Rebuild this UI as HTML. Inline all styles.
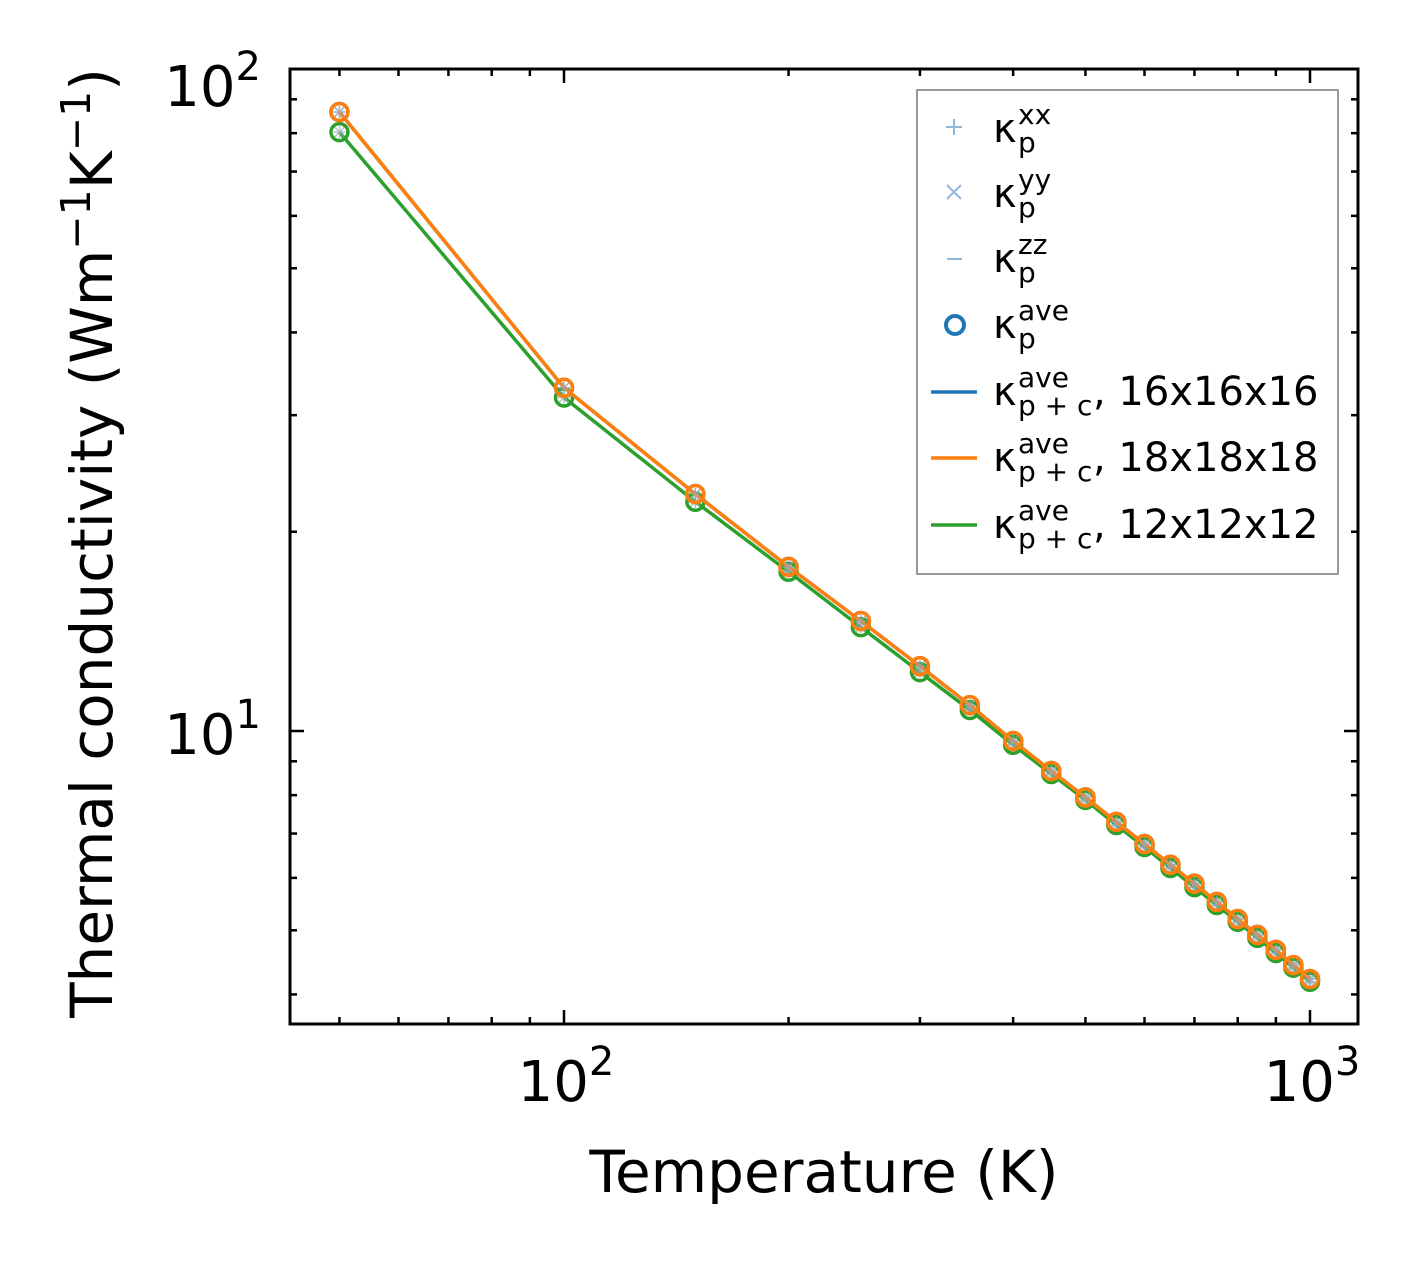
<!DOCTYPE html>
<html><head><meta charset="utf-8"><style>
body{margin:0;background:#fff}
text{font-family:"DejaVu Sans","Liberation Sans",sans-serif;fill:#000}
</style></head><body>
<svg id="chart" width="1420" height="1263" viewBox="0 0 1420 1263" xmlns="http://www.w3.org/2000/svg">
<g id="marks"></g>
<g id="axes"></g>
<rect x="290" y="69" width="1068" height="955" fill="none" stroke="#000" stroke-width="3"/>
<text x="824" y="1192" font-size="58" text-anchor="middle">Temperature (K)</text>
<text transform="translate(112,543) rotate(-90)" font-size="58" text-anchor="middle">Thermal conductivity (Wm<tspan dy="-22" font-size="41">−1</tspan><tspan dy="22">K</tspan><tspan dy="-22" font-size="41">−1</tspan><tspan dy="22">)</tspan></text>
<g>
<rect x="917" y="90" width="421" height="484" fill="#fff" stroke="#999" stroke-width="2"/>
<g id="legend-items"></g>
</g>
</svg>
<script>
const temps=[50,100,150,200,250,300,350,400,450,500,550,600,650,700,750,800,850,900,950,1000];
const k16=[86.1,33.0,22.8,17.7,14.66,12.53,10.94,9.66,8.70,7.94,7.29,6.75,6.28,5.88,5.52,5.20,4.92,4.67,4.43,4.22];
const k18=[86.1,33.0,22.8,17.7,14.66,12.53,10.94,9.66,8.70,7.94,7.29,6.75,6.28,5.88,5.52,5.20,4.92,4.67,4.43,4.22];
const k12=[80.3,31.9,22.2,17.4,14.35,12.27,10.76,9.53,8.61,7.87,7.21,6.68,6.21,5.81,5.46,5.15,4.87,4.62,4.39,4.18];
const xMajor=[100,1000];
const xMajorLabels=["2","3"];
const yMajor=[10,100];
const yMajorLabels=["1","2"];

const NS="http://www.w3.org/2000/svg";
const X0=290,X1=1358,Y0=69,Y1=1024;
const xlo=Math.log10(100)-274/746, xhi=3+48/746;
const ylo=1-293/662, yhi=2;
function xs(v){return X0+(Math.log10(v)-xlo)/(xhi-xlo)*(X1-X0);}
function ys(v){return Y1-(Math.log10(v)-ylo)/(yhi-ylo)*(Y1-Y0);}
function mk(tag,attrs,parent){const e=document.createElementNS(NS,tag);for(const k in attrs)e.setAttribute(k,attrs[k]);parent.appendChild(e);return e;}
const marks=document.getElementById('marks'), axes=document.getElementById('axes');

for(let d=10;d<=1000;d*=10){for(let m=1;m<10;m++){const v=d*m;if(v<43||v>1159)continue;const x=xs(v);const L=(m===1)?14:7;
 let t=mk('line',{x1:x,x2:x,y1:Y1,y2:Y1-L,stroke:'#000','stroke-width':2.5},axes);
 
 
 t=mk('line',{x1:x,x2:x,y1:Y0,y2:Y0+L,stroke:'#000','stroke-width':2.5},axes);
 
 }}
for(let d=1;d<=100;d*=10){for(let m=1;m<10;m++){const v=d*m;if(v<3.6||v>100.1)continue;const y=ys(v);const L=(m===1)?14:7;
 let t=mk('line',{x1:X0,x2:X0+L,y1:y,y2:y,stroke:'#000','stroke-width':2.5},axes);
 
 
 t=mk('line',{x1:X1,x2:X1-L,y1:y,y2:y,stroke:'#000','stroke-width':2.5},axes);
 
 }}
xMajor.forEach((v,i)=>{const t=mk('text',{x:xs(v)+2,y:1101,'font-size':56,'text-anchor':'middle'},axes);
 
 
 t.innerHTML='10<tspan dy="-26" font-size="40">'+xMajorLabels[i]+'</tspan>';});
yMajor.forEach((v,i)=>{const t=mk('text',{x:261,y:(v===100?106:ys(v)+23),'font-size':56,'text-anchor':'end'},axes);
 
 
 t.innerHTML='10<tspan dy="-26" font-size="40">'+yMajorLabels[i]+'</tspan>';});

const series=[{d:k16,c:'#1f77b4',n:'16'},{d:k12,c:'#2ca02c',n:'12'},{d:k18,c:'#ff7f0e',n:'18'}];
series.forEach(s=>{
 const g=mk('g',{},marks);
 
 
 const pts=temps.map((t,i)=>xs(t)+','+ys(s.d[i])).join(' ');
 const pl=mk('polyline',{points:pts,fill:'none',stroke:s.c,'stroke-width':3.5},g);
 
 
 temps.forEach((t,i)=>{const x=xs(t),y=ys(s.d[i]);
  const p=mk('path',{d:`M${x-6},${y}h12M${x},${y-6}v12M${x-5},${y-5}l10,10M${x-5},${y+5}l10,-10`,stroke:'#9ab',opacity:0.7,'stroke-width':1.5},g);
  
  
  const c=mk('circle',{cx:x,cy:y,r:8.5,fill:'none',stroke:s.c,'stroke-width':3.5},g);
  
  });
});

const li=document.getElementById('legend-items');
const leg=[['+','xx',''],['x','yy',''],['-','zz',''],['o','ave',''],['l1','ave',', 16x16x16'],['l2','ave',', 18x18x18'],['l3','ave',', 12x12x12']];
const lys=[127,192,257,323,390,456,523];
const lc={l1:'#1f77b4',l2:'#ff7f0e',l3:'#2ca02c'};
leg.forEach((e,i)=>{const y=lys[i];const g=mk('g',{},li);
 
 
 const m=e[0];
 if(m==='+')mk('path',{d:`M946,${y}h16M954,${y-8}v16`,stroke:'#8fb8dc','stroke-width':2},g);
 else if(m==='x')mk('path',{d:`M947,${y-7}l14,14M947,${y+7}l14,-14`,stroke:'#8fb8dc','stroke-width':2},g);
 else if(m==='-')mk('path',{d:`M947,${y+2}h15`,stroke:'#8fb8dc','stroke-width':2},g);
 else if(m==='o')mk('circle',{cx:955,cy:y+2,r:9,fill:'none',stroke:'#1f77b4','stroke-width':4},g);
 else mk('path',{d:`M931,${y+2}h46`,stroke:lc[m],'stroke-width':3.5},g);
 const sub=(i<4)?'p':'p + c';
 const base=y+15;
 const k=mk('text',{x:993,y:base,'font-size':40},g); k.textContent='κ';
 const sp=mk('text',{x:1018,y:base-18,'font-size':28},g); sp.textContent=e[1];
 const sb=mk('text',{x:1018,y:base+10,'font-size':28},g); sb.textContent=sub;
 if(e[2]){const r=mk('text',{x:1093,y:base,'font-size':40},g); r.textContent=e[2];}
});
</script>
</body></html>
